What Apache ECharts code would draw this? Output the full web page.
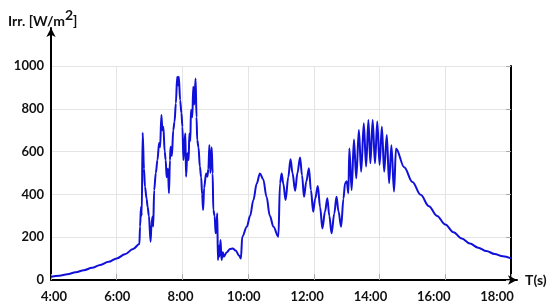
<!DOCTYPE html>
<html>
<head>
<meta charset="utf-8">
<script src="https://cdn.jsdelivr.net/npm/echarts@6/dist/echarts.min.js"></script>
<style>
  html, body { margin: 0; padding: 0; background: #fff; }
  #chart { width: 550px; height: 306px; }
</style>
</head>
<body>
<div id="chart"></div>
<script>
// time of day in hours, irradiance in W/m2
var hours = [
  4.00, 4.25, 4.50, 4.75, 5.00, 5.25, 5.50, 5.75, 6.00, 6.25, 6.50, 6.69,
  6.71, 6.74, 6.76, 6.79, 6.83, 6.86, 6.91, 6.94, 6.98, 7.03,
  7.06, 7.09, 7.11, 7.14, 7.19, 7.24, 7.29, 7.32, 7.36, 7.39,
  7.42, 7.46, 7.49, 7.52, 7.56, 7.59, 7.62, 7.64, 7.68, 7.72,
  7.76, 7.80, 7.84, 7.87, 7.89, 7.93, 7.97, 8.00, 8.03, 8.06,
  8.09, 8.11, 8.15, 8.19, 8.21, 8.24, 8.26, 8.30, 8.33, 8.36,
  8.40, 8.43, 8.45, 8.49, 8.53, 8.57, 8.60, 8.63, 8.66, 8.72,
  8.76, 8.79, 8.82, 8.85, 8.89, 8.92, 8.94, 8.98, 9.01, 9.04,
  9.06, 9.08, 9.11, 9.13, 9.16, 9.19, 9.23, 9.26,
  9.35, 9.45, 9.53, 9.62, 9.72, 9.78, 9.82,
  9.96, 10.06, 10.16, 10.26, 10.36, 10.46, 10.56, 10.66, 10.77, 10.92,
  10.97, 11.02, 11.07, 11.14, 11.22, 11.29, 11.35, 11.43, 11.50, 11.58,
  11.64, 11.70, 11.77, 11.85, 11.91, 11.98, 12.04, 12.12, 12.19, 12.26,
  12.34, 12.41, 12.47, 12.54, 12.62, 12.69, 12.75, 12.83, 12.90, 12.95,
  13.00, 13.05,
  13.08, 13.15, 13.22, 13.29, 13.37, 13.44, 13.52, 13.59, 13.66, 13.72,
  13.79, 13.86, 13.93, 14.00, 14.07, 14.14, 14.22, 14.29, 14.36, 14.44,
  14.50, 14.75, 15.00, 15.25, 15.50, 15.75, 16.00, 16.25, 16.50, 16.75,
  17.00, 17.25, 17.50, 17.75, 18.00
];
var irradiance = [
  15, 20, 27, 36, 46, 57, 70, 85, 101, 120, 145, 168,
  250, 342, 300, 688, 520, 436, 380, 342, 300, 179,
  260, 296, 250, 420, 500, 561, 640, 620, 771, 700,
  716, 600, 561, 480, 520, 405, 560, 623, 580, 700,
  740, 826, 950, 910, 950, 840, 780, 716, 561, 640,
  685, 483, 592, 560, 685, 650, 794, 760, 903, 820,
  942, 760, 654, 620, 530, 480, 400, 327, 430, 498,
  483, 520, 631, 500, 620, 498, 327, 300, 218, 260,
  312, 93, 160, 110, 187, 93, 130, 109,
  130, 145, 147, 138, 115, 100, 202,
  249, 300, 374, 450, 498, 470, 389, 300, 249, 202,
  452, 498, 450, 374, 480, 564, 500, 417, 500, 573,
  490, 389, 460, 522, 420, 319, 380, 439, 340, 241,
  320, 382, 300, 218, 310, 389, 320, 249, 380, 452,
  462, 405,
  615, 420, 657, 475, 701, 506, 732, 530, 748, 545,
  748, 545, 741, 538, 716, 506, 678, 452, 630, 413,
  615, 527, 458, 398, 345, 299, 259, 223, 194, 170,
  151, 135, 122, 111, 101
];
var yTicks = [0, 200, 400, 600, 800, 1000];

var points = hours.map(function (h, i) { return [h, irradiance[i]]; });
var labelFont = { fontFamily: 'Lato', fontWeight: 'bold', fontSize: 13, color: '#111' };

var chart = echarts.init(document.getElementById('chart'));
chart.setOption({
  animation: false,
  backgroundColor: '#fff',
  title: {
    text: '{a|Irr. [W/m}{s|2}{a|]}',
    left: 3,
    top: 3,
    textStyle: {
      rich: {
        a: { fontFamily: 'Lato', fontWeight: 'bold', fontSize: 14, color: '#111', verticalAlign: 'bottom', lineHeight: 20 },
        s: { fontFamily: 'Lato', fontWeight: 'bold', fontSize: 14, color: '#111', verticalAlign: 'top', lineHeight: 14 }
      }
    }
  },
  grid: [
    { left: 51, right: 39, top: 66, bottom: 26 },
    { left: 51, right: 33, top: 28, bottom: 26 },
    { left: 54, right: 53, top: 66, bottom: 26 }
  ],
  xAxis: [
    {
      gridIndex: 0, type: 'value', min: 4, max: 18, interval: 2,
      axisLine: { show: false },
      axisTick: { show: true, inside: true, length: 6, lineStyle: { color: '#aaa' } },
      axisLabel: { show: false },
      splitLine: { show: true, lineStyle: { color: '#e4e4e4' } }
    },
    {
      gridIndex: 0, type: 'value', position: 'top', min: 4, max: 18,
      axisLine: { lineStyle: { color: '#999', width: 1.5 } },
      axisTick: { show: false }, axisLabel: { show: false }, splitLine: { show: false }
    },
    {
      gridIndex: 1, type: 'value', min: 0, max: 1,
      name: 'T(s)', nameLocation: 'end', nameGap: 8,
      nameTextStyle: { fontFamily: 'Lato', fontWeight: 'bold', fontSize: 14, color: '#111', padding: [0, 0, 4, 0] },
      axisLine: { symbol: ['none', 'arrow'], symbolSize: [7, 9], lineStyle: { color: '#000', width: 2 } },
      axisTick: { show: false }, axisLabel: { show: false }, splitLine: { show: false }
    },
    {
      gridIndex: 2, type: 'value', min: 4, max: 18, interval: 2,
      axisLine: { show: false }, axisTick: { show: false }, splitLine: { show: false },
      axisLabel: Object.assign({ margin: 10, formatter: function (v) { return v + ':00'; } }, labelFont)
    }
  ],
  yAxis: [
    {
      gridIndex: 0, type: 'value', min: yTicks[0], max: yTicks[yTicks.length - 1], interval: 200,
      axisLine: { show: false }, axisTick: { show: false },
      axisLabel: Object.assign({ margin: 7, formatter: function (v) { return String(v); } }, labelFont),
      splitLine: { show: true, lineStyle: { color: '#e4e4e4' } }
    },
    {
      gridIndex: 0, type: 'value', position: 'right', min: 0, max: 1000, interval: 200,
      axisLine: { show: true, lineStyle: { color: '#000', width: 2 } },
      axisTick: { show: true, inside: true, length: 5, lineStyle: { color: '#aaa' } },
      axisLabel: { show: false }, splitLine: { show: false }
    },
    {
      gridIndex: 1, type: 'value', min: 0, max: 1,
      axisLine: { symbol: ['none', 'arrow'], symbolSize: [7, 9], lineStyle: { color: '#000', width: 2 } },
      axisTick: { show: false }, axisLabel: { show: false }, splitLine: { show: false }
    },
    { gridIndex: 2, type: 'value', show: false }
  ],
  series: [
    {
      type: 'line',
      xAxisIndex: 0,
      yAxisIndex: 0,
      data: points,
      showSymbol: false,
      smooth: 0.35,
      smoothMonotone: 'x',
      lineStyle: { color: '#1010d8', width: 2 },
      z: 3
    }
  ]
});
</script>
</body>
</html>
